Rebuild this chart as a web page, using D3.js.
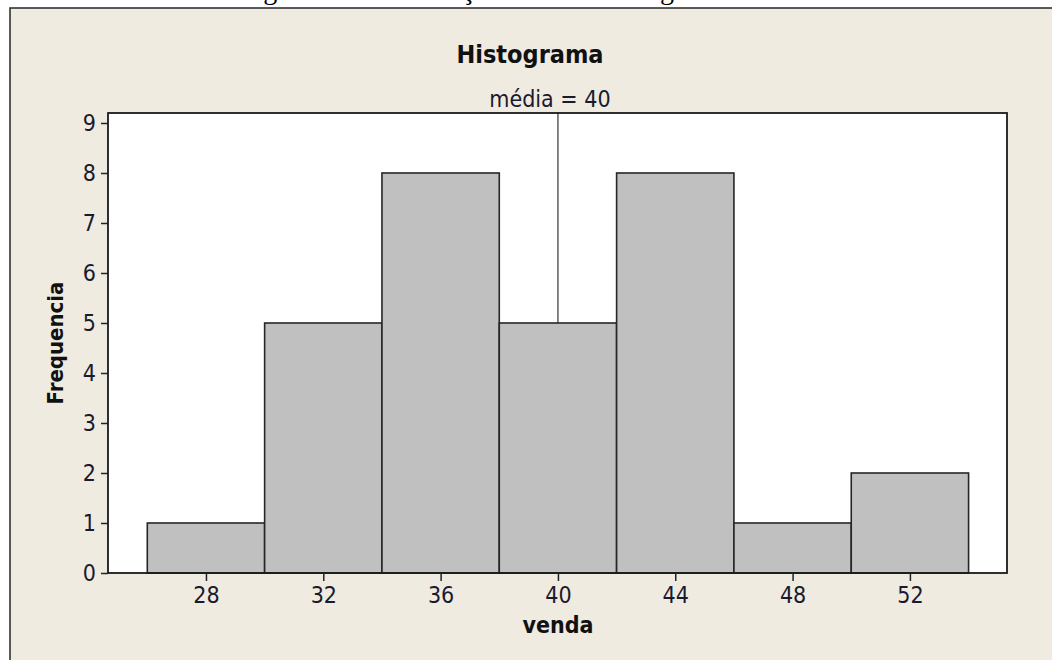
<!DOCTYPE html>
<html>
<head>
<meta charset="utf-8">
<script src="https://cdn.jsdelivr.net/npm/d3@7"></script>
<style>
  body { margin: 0; background: #ffffff; }
  svg { display: block; }
</style>
</head>
<body>
<script>
// histogram bins (venda) and counts
const binStart = [26, 30, 34, 38, 42, 46, 50];
const binEnd = [30, 34, 38, 42, 46, 50, 54];
const counts = [1, 5, 8, 5, 8, 1, 2];
const xTicks = [28, 32, 36, 40, 44, 48, 52];
const yTicks = [0, 1, 2, 3, 4, 5, 6, 7, 8, 9];
const meanValue = 40;

const WIDTH = 1052;
const HEIGHT = 660;
const PLOT_LEFT = 108;
const PLOT_RIGHT = 1007;
const PLOT_TOP = 113;
const PLOT_BOTTOM = 573;
const FONT = "'DejaVu Sans Condensed', 'DejaVu Sans', sans-serif";

var svg = d3.select("body").append("svg")
    .attr("width", WIDTH)
    .attr("height", HEIGHT);

// caption of the page above, cut off
svg.append("text")
    .attr("x", 240)
    .attr("y", -1)
    .style("font-family", "'Liberation Serif', serif")
    .attr("font-size", 28)
    .attr("fill", "black")
    .text("Figura 1 – Distribuição das vendas segundo");

// graph window
svg.append("rect")
    .attr("x", 10)
    .attr("y", 8)
    .attr("width", 1100)
    .attr("height", 700)
    .attr("fill", "#efebe1")
    .attr("stroke", "#333")
    .attr("stroke-width", 1.6);

const x = d3.scaleLinear()
    .domain([24.66, 55.31])
    .range([PLOT_LEFT, PLOT_RIGHT]);

const y = d3.scaleLinear()
    .domain([0, 9.2])
    .range([PLOT_BOTTOM, PLOT_TOP]);

svg.append("rect")
    .attr("x", PLOT_LEFT)
    .attr("y", PLOT_TOP)
    .attr("width", PLOT_RIGHT - PLOT_LEFT)
    .attr("height", PLOT_BOTTOM - PLOT_TOP)
    .attr("fill", "white");

// mean line (bars are drawn on top of it)
svg.append("line")
    .attr("x1", x(meanValue))
    .attr("x2", x(meanValue))
    .attr("y1", PLOT_TOP)
    .attr("y2", y(0))
    .attr("stroke", "#333")
    .attr("stroke-width", 1.2);

svg.selectAll(".bar")
    .data(counts)
    .enter()
    .append("rect")
    .attr("class", "bar")
    .attr("x", (d, i) => x(binStart[i]))
    .attr("y", d => y(d))
    .attr("width", (d, i) => x(binEnd[i]) - x(binStart[i]))
    .attr("height", d => y(0) - y(d))
    .attr("fill", "#c0c0c0")
    .attr("stroke", "#262626")
    .attr("stroke-width", 1.6);

// plot border
svg.append("rect")
    .attr("x", PLOT_LEFT)
    .attr("y", PLOT_TOP)
    .attr("width", PLOT_RIGHT - PLOT_LEFT)
    .attr("height", PLOT_BOTTOM - PLOT_TOP)
    .attr("fill", "none")
    .attr("stroke", "#1a1a1a")
    .attr("stroke-width", 1.8);

const xAxis = svg.append("g")
    .attr("transform", `translate(0,${PLOT_BOTTOM})`)
    .call(d3.axisBottom(x).tickValues(xTicks).tickSize(8).tickPadding(6));

const yAxis = svg.append("g")
    .attr("transform", `translate(${PLOT_LEFT},0)`)
    .call(d3.axisLeft(y).tickValues(yTicks).tickSize(7).tickPadding(5));

[xAxis, yAxis].forEach(g => {
    g.select(".domain").remove();
    g.selectAll("line").attr("stroke", "#222").attr("stroke-width", 1.5);
    g.selectAll("text")
        .style("font-family", FONT)
        .attr("font-size", 23)
        .attr("fill", "#1a1a2e");
});

svg.append("text")
    .attr("x", 530)
    .attr("y", 63)
    .attr("text-anchor", "middle")
    .style("font-family", FONT)
    .attr("font-size", 25)
    .attr("font-weight", "bold")
    .attr("fill", "#111")
    .text("Histograma");

svg.append("text")
    .attr("x", x(meanValue) - 8)
    .attr("y", 107)
    .attr("text-anchor", "middle")
    .style("font-family", FONT)
    .attr("font-size", 23)
    .attr("fill", "#1a1a2e")
    .text("média = " + meanValue);

svg.append("text")
    .attr("x", x(meanValue))
    .attr("y", 633)
    .attr("text-anchor", "middle")
    .style("font-family", FONT)
    .attr("font-size", 23)
    .attr("font-weight", "bold")
    .attr("fill", "#111")
    .text("venda");

svg.append("text")
    .attr("transform", `translate(63,${(PLOT_TOP + PLOT_BOTTOM) / 2}) rotate(-90)`)
    .attr("text-anchor", "middle")
    .style("font-family", FONT)
    .attr("font-size", 22)
    .attr("font-weight", "bold")
    .attr("fill", "#111")
    .text("Frequencia");
</script>
</body>
</html>
